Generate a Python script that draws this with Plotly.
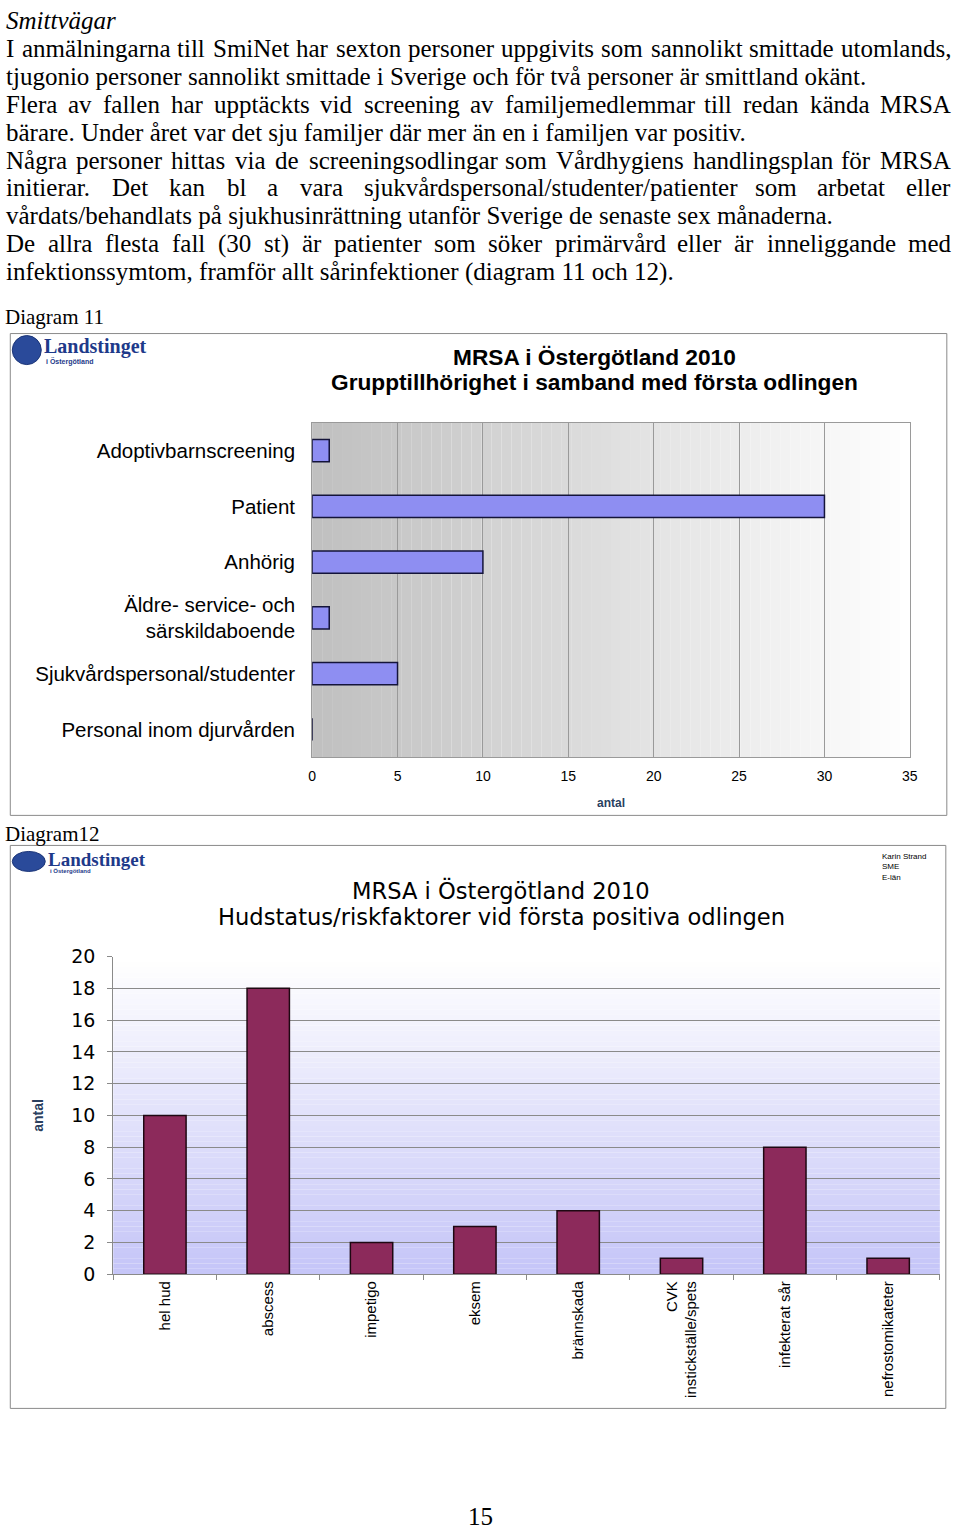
import plotly.graph_objects as go

W, H = 960, 1537

# ---------------- data ----------------
groups = ["Adoptivbarnscreening", "Patient", "Anhörig",
          "Äldre- service- och<br>särskildaboende",
          "Sjukvårdspersonal/studenter", "Personal inom djurvården"]
group_counts = [1, 30, 10, 1, 5, 0]
group_ticks = [0, 5, 10, 15, 20, 25, 30, 35]

skin = ["hel hud", "abscess", "impetigo", "eksem", "brännskada",
        "CVK<br>instickställe/spets", "infekterat sår", "nefrostomikateter"]
skin_counts = [10, 18, 2, 3, 4, 1, 8, 1]
skin_ticks = [0, 2, 4, 6, 8, 10, 12, 14, 16, 18, 20]

body_lines = [
    ("I anmälningarna till SmiNet har sexton personer uppgivits som sannolikt smittade utomlands,", True),
    ("tjugonio personer sannolikt smittade i Sverige och för två personer är smittland okänt.", False),
    ("Flera av fallen har upptäckts vid screening av familjemedlemmar till redan kända MRSA", True),
    ("bärare. Under året var det sju familjer där mer än en i familjen var positiv.", False),
    ("Några personer hittas via de screeningsodlingar som Vårdhygiens handlingsplan för MRSA", True),
    ("initierar. Det kan bl a vara sjukvårdspersonal/studenter/patienter som arbetat eller", True),
    ("vårdats/behandlats på sjukhusinrättning utanför Sverige de senaste sex månaderna.", False),
    ("De allra flesta fall (30 st) är patienter som söker primärvård eller är inneliggande med", True),
    ("infektionssymtom, framför allt sårinfektioner (diagram 11 och 12).", False),
]

# mapping of reference-page pixels to figure pixels (the captured page is
# slightly inset and scaled in the photograph)
AX, SX = 3.7, 0.988
AY, SY = 12.0, 0.984


def fx(px):
    return (px - AX) / SX


def fy(py):
    return (py - AY) / SY


def X(px):
    return fx(px) / W


def Y(py):
    return 1 - fy(py) / H


def XF(f):  # direct figure pixels
    return f / W


def YF(f):
    return 1 - f / H


SERIF = "Liberation Serif, Times New Roman, serif"
SANS = "Liberation Sans, Arial, sans-serif"
WIDE = "DejaVu Sans, Verdana, sans-serif"

# Times New Roman advance widths (1/1000 em) for justification of body text
TW = {" ": 250, ",": 250, ".": 250, "(": 333, ")": 333, "/": 278, "-": 333}
for ch in "0123456789":
    TW[ch] = 500
TW.update(dict(zip("ABCDEFGHIJKLMNOPQRSTUVWXYZ",
                   [722, 667, 667, 722, 611, 556, 722, 722, 333, 389, 722, 611, 889,
                    722, 722, 556, 722, 667, 556, 611, 722, 722, 944, 722, 722, 611])))
TW.update(dict(zip("abcdefghijklmnopqrstuvwxyz",
                   [444, 500, 444, 500, 444, 333, 500, 500, 278, 278, 500, 278, 778,
                    500, 500, 500, 500, 333, 389, 278, 500, 500, 722, 500, 500, 444])))
TW.update({"å": 444, "ä": 444, "ö": 500, "Å": 722, "Ä": 722, "Ö": 722})


def tw(s, size):
    return sum(TW.get(c, 500) for c in s) * size / 1000.0


fig = go.Figure()

fig.add_trace(go.Bar(
    x=group_counts, y=groups, orientation="h", width=0.4,
    marker=dict(color="#8E8EF2", line=dict(color="#14143A", width=1.5)),
    xaxis="x", yaxis="y", showlegend=False, hoverinfo="x+y"))

fig.add_trace(go.Bar(
    x=skin, y=skin_counts, width=0.41,
    marker=dict(color="#8C2A5B", line=dict(color="#1E0812", width=1.5)),
    xaxis="x2", yaxis="y2", showlegend=False, hoverinfo="x+y"))

shapes = []
# gradient backgrounds (styling strips)
N = 60
for i in range(N):
    t = i / (N - 1)
    g = int(192 + (255 - 192) * t)
    shapes.append(dict(type="rect", xref="x domain", yref="y domain",
                       x0=i / N, x1=(i + 1) / N, y0=0, y1=1,
                       fillcolor=f"rgb({g},{g},{g})", line=dict(width=0),
                       layer="below"))
for i in range(N):
    t = i / (N - 1)  # 0 bottom -> 1 top
    r = int(198 + (255 - 198) * t)
    b = int(248 + (255 - 248) * t)
    shapes.append(dict(type="rect", xref="x2 domain", yref="y2 domain",
                       x0=0, x1=1, y0=i / N, y1=(i + 1) / N,
                       fillcolor=f"rgb({r},{r},{b})", line=dict(width=0),
                       layer="below"))

# chart frames
shapes.append(dict(type="rect", xref="paper", yref="paper",
                   x0=X(10), x1=X(947), y0=Y(815), y1=Y(334),
                   line=dict(color="#8a8a8a", width=1), fillcolor="rgba(0,0,0,0)"))
shapes.append(dict(type="rect", xref="paper", yref="paper",
                   x0=X(10), x1=X(946), y0=Y(1407), y1=Y(845),
                   line=dict(color="#8a8a8a", width=1), fillcolor="rgba(0,0,0,0)"))
# logo emblems
shapes.append(dict(type="circle", xref="paper", yref="paper",
                   x0=X(12), x1=X(41), y0=Y(365), y1=Y(336),
                   fillcolor="#2A4A9A", line=dict(color="#1B3578", width=1)))
shapes.append(dict(type="circle", xref="paper", yref="paper",
                   x0=X(12), x1=X(45), y0=Y(871), y1=Y(851),
                   fillcolor="#2A4A9A", line=dict(color="#1B3578", width=1)))

ann = []


def add(xp, yp, s, size, family=SERIF, color="black", xanchor="left",
        yanchor="middle"):
    ann.append(dict(x=xp, y=yp, xref="paper", yref="paper", text=s,
                    showarrow=False, xanchor=xanchor, yanchor=yanchor,
                    font=dict(size=size, family=family, color=color)))


def txt(x, y, s, size, **kw):
    add(X(x), Y(y), s, size, **kw)


# body text (placed in figure pixels; page top edge limits the first line)
FS = 25
LEFT, RIGHT = 2.0, 958.0
add(XF(0), YF(10), "<i>Smittvägar</i>", FS)
for k, (line, just) in enumerate(body_lines):
    yy = 38 + 28.3 * k
    if not just:
        add(XF(0), YF(yy), line, FS)
        continue
    words = line.split(" ")
    widths = [tw(w, FS) for w in words]
    gap = (RIGHT - LEFT - sum(widths)) / (len(words) - 1)
    xx = LEFT
    for w, wd in zip(words, widths):
        add(XF(max(xx - 2, 0)), YF(yy), w, FS)
        xx += wd + gap

txt(3, 317, "Diagram 11", 21)
txt(3, 834, "Diagram12", 21)
add(XF(fx(480)), YF(1527), "15", FS, xanchor="center")

# logos
txt(42, 347, "<b>Landstinget</b>", 20, family=SERIF, color="#1E3A8A")
txt(44, 362, "<b>i Östergötland</b>", 7, family=SANS, color="#1E3A8A")
txt(46, 859, "<b>Landstinget</b>", 19, family=SERIF, color="#1E3A8A")
txt(48, 871, "<b>i Östergötland</b>", 6, family=SANS, color="#1E3A8A")

# chart 1 titles
txt(594, 357, "<b>MRSA i Östergötland 2010</b>", 22.7, family=SANS, xanchor="center")
txt(594, 382, "<b>Grupptillhörighet i samband med första odlingen</b>", 22.7,
    family=SANS, xanchor="center")

# chart 2 titles
txt(501, 889.5, "MRSA i Östergötland 2010", 22.6, family=WIDE, xanchor="center")
txt(501, 916.5, "Hudstatus/riskfaktorer vid första positiva odlingen", 22.6,
    family=WIDE, xanchor="center")
txt(880, 856, "Karin Strand", 8, family=SANS)
txt(880, 866, "SME", 8, family=SANS)
txt(880, 877, "E-län", 8, family=SANS)

fig.update_layout(
    width=W, height=H, autosize=False,
    margin=dict(l=0, r=0, t=0, b=0),
    paper_bgcolor="white", plot_bgcolor="white",
    bargap=0.5,
    shapes=shapes, annotations=ann,
    xaxis=dict(domain=[X(312), X(910)], range=[0, 35], tickvals=group_ticks,
               showgrid=True, gridcolor="#9a9a9a", gridwidth=1, zeroline=False,
               showline=True, linecolor="#9a9a9a", mirror=True,
               ticks="outside", ticklen=6, tickcolor="rgba(0,0,0,0)",
               tickfont=dict(size=14, family=SANS, color="black"),
               title=dict(text="<b>antal</b>", font=dict(size=12, family=SANS),
                          standoff=15),
               anchor="y", fixedrange=True),
    yaxis=dict(domain=[Y(757), Y(423)], autorange="reversed",
               type="category", showgrid=False, zeroline=False,
               showline=True, linecolor="#9a9a9a", mirror=True,
               ticks="outside", ticklen=12, tickcolor="rgba(0,0,0,0)",
               tickfont=dict(size=20.5, family=SANS, color="black"),
               anchor="x", fixedrange=True),
    xaxis2=dict(domain=[X(113), X(940)], range=[-0.5, 7.5], type="category",
                showgrid=False, zeroline=False,
                showline=True, linecolor="#8a8a8a",
                ticks="outside", tickson="boundaries", ticklen=5,
                tickcolor="#8a8a8a", tickangle=-90,
                tickfont=dict(size=15,
                              family="Liberation Sans Narrow, Arial Narrow, Liberation Sans, Arial",
                              color="black"),
                anchor="y2", fixedrange=True),
    yaxis2=dict(domain=[Y(1273), Y(956)], range=[0, 20], tickvals=skin_ticks,
                showgrid=True, gridcolor="#8a8a8a", gridwidth=1, zeroline=False,
                showline=True, linecolor="#8a8a8a",
                ticks="outside", ticklen=5, tickcolor="#8a8a8a",
                ticklabelstandoff=8,
                tickfont=dict(size=19, family=WIDE, color="black"),
                title=dict(text="<b>antal</b>",
                           font=dict(size=14, family="Liberation Sans Narrow, Arial Narrow, Arial"),
                           standoff=24),
                anchor="x2", fixedrange=True),
)

post = (
    "var hs=document.documentElement.style;hs.margin='0';hs.padding='0';hs.overflow='hidden';"
    "var bs=document.body.style;bs.margin='0';bs.padding='0';bs.overflow='hidden';"
    "var d=document.getElementById('{plot_id}');"
    "d.style.position='absolute';d.style.left='0px';d.style.top='0px';"
)

fig.write_html("out.html", config={"displayModeBar": False}, post_script=post)
